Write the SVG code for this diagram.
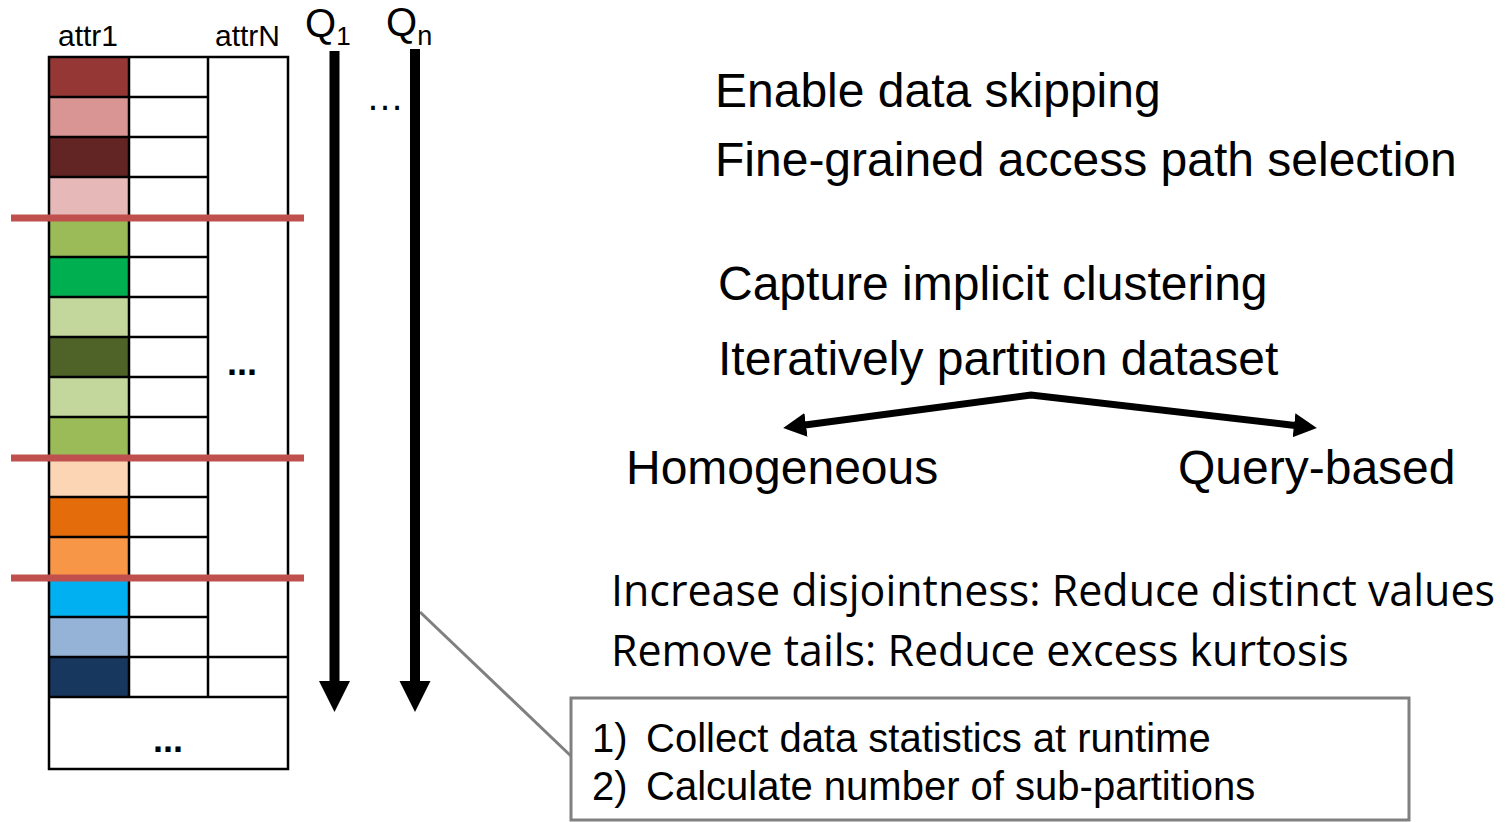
<svg xmlns="http://www.w3.org/2000/svg" width="1510" height="822" viewBox="0 0 1510 822">
  <style>
    .grid { fill: none; stroke: #000; stroke-width: 2.5; }
    .cell { stroke: none; }
    .cut { stroke: #C0504D; stroke-width: 7; }
    .lbl { font-family: "Liberation Sans", Arial, sans-serif; fill: #000; }
    .big { font-family: "Liberation Sans", Arial, sans-serif; font-size: 48px; fill: #000; }
    .cal { font-family: "Open Sans", "Noto Sans", sans-serif; font-size: 44px; fill: #000; }
    .box { font-family: "Liberation Sans", Arial, sans-serif; font-size: 40px; fill: #000; }
    .dots { font-family: "Liberation Sans", Arial, sans-serif; font-weight: bold; font-size: 36px; fill: #000; text-anchor: middle; }
    .shaft { stroke: #000; stroke-width: 10; fill: none; }
    .split { stroke: #000; stroke-width: 7; fill: none; stroke-linejoin: miter; }
  </style>
  <defs>
    <marker id="headBig" markerUnits="userSpaceOnUse" markerWidth="32" markerHeight="32" refX="1" refY="15.5" orient="auto">
      <path d="M0,0 L31,15.5 L0,31 Z" fill="#000"/>
    </marker>
    <marker id="headSplit" markerUnits="userSpaceOnUse" markerWidth="26" markerHeight="26" refX="1" refY="12" orient="auto-start-reverse">
      <path d="M0,0 L23,12 L0,24 Z" fill="#000"/>
    </marker>
  </defs>
  <rect width="1510" height="822" fill="#fff"/>

  <!-- column table with coloured attr1 values -->
  <g id="table">
    <g class="cell">
      <rect x="49" y="57" width="80" height="40" fill="#953735"/>
      <rect x="49" y="97" width="80" height="40" fill="#D99594"/>
      <rect x="49" y="137" width="80" height="40" fill="#632523"/>
      <rect x="49" y="177" width="80" height="40" fill="#E6B9B8"/>
      <rect x="49" y="217" width="80" height="40" fill="#9BBB59"/>
      <rect x="49" y="257" width="80" height="40" fill="#00B050"/>
      <rect x="49" y="297" width="80" height="40" fill="#C3D69B"/>
      <rect x="49" y="337" width="80" height="40" fill="#4F6228"/>
      <rect x="49" y="377" width="80" height="40" fill="#C3D69B"/>
      <rect x="49" y="417" width="80" height="40" fill="#9BBB59"/>
      <rect x="49" y="457" width="80" height="40" fill="#FCD5B5"/>
      <rect x="49" y="497" width="80" height="40" fill="#E46C0A"/>
      <rect x="49" y="537" width="80" height="40" fill="#F79646"/>
      <rect x="49" y="577" width="80" height="40" fill="#00B0F0"/>
      <rect x="49" y="617" width="80" height="40" fill="#95B3D7"/>
      <rect x="49" y="657" width="80" height="40" fill="#17375E"/>
    </g>
    <path class="grid" d="M49,57 H288 V769 H49 Z M129,57 V697 M208,57 V697
      M49,97 H208 M49,137 H208 M49,177 H208 M49,217 H208 M49,257 H208 M49,297 H208
      M49,337 H208 M49,377 H208 M49,417 H208 M49,457 H208 M49,497 H208 M49,537 H208
      M49,577 H208 M49,617 H208 M49,657 H288 M49,697 H288"/>
    <text class="dots" x="242" y="375">...</text>
    <text class="dots" x="168" y="752">...</text>
    <text class="lbl" x="58" y="46" font-size="30">attr1</text>
    <text class="lbl" x="215" y="46" font-size="30">attrN</text>
  </g>

  <!-- partition boundaries -->
  <g id="cuts">
    <line class="cut" x1="11" y1="218" x2="304" y2="218"/>
    <line class="cut" x1="11" y1="458" x2="304" y2="458"/>
    <line class="cut" x1="11" y1="578" x2="304" y2="578"/>
  </g>

  <g id="query-labels">
    <text class="lbl" x="305" y="37" font-size="40">Q<tspan font-size="26" dy="8">1</tspan></text>
    <text class="lbl" x="386" y="36" font-size="40">Q<tspan font-size="27" dy="9">n</tspan></text>
    <text class="lbl" x="366" y="110" font-size="38">…</text>
  </g>

  <g id="connectors">
    <line x1="420" y1="612" x2="572" y2="757" stroke="#808080" stroke-width="3"/>
    <line class="shaft" x1="334.5" y1="51" x2="334.5" y2="682" marker-end="url(#headBig)"/>
    <line class="shaft" x1="415" y1="49" x2="415" y2="682" marker-end="url(#headBig)"/>
    <path class="split" d="M805,425 L1031,395 L1295,425.4" marker-start="url(#headSplit)" marker-end="url(#headSplit)"/>
  </g>

  <g id="goals">
    <text class="big" x="715" y="107">Enable data skipping</text>
    <text class="big" x="715" y="176">Fine-grained access path selection</text>
  </g>

  <g id="method">
    <text class="big" x="718" y="300">Capture implicit clustering</text>
    <text class="big" x="718" y="375">Iteratively partition dataset</text>
  </g>

  <g id="homogeneous">
    <text class="big" x="626" y="484">Homogeneous</text>
  </g>

  <g id="query-based">
    <text class="big" x="1178" y="484">Query-based</text>
  </g>

  <!-- narrow sans lines: horizontally condensed -->
  <g id="effects">
    <text class="cal" transform="translate(611,606) scale(0.85,1)" textLength="1040" lengthAdjust="spacingAndGlyphs">Increase disjointness: Reduce distinct values</text>
    <text class="cal" transform="translate(611,666) scale(0.85,1)" textLength="868" lengthAdjust="spacingAndGlyphs">Remove tails: Reduce excess kurtosis</text>
  </g>

  <g id="steps">
    <rect x="571" y="698" width="838" height="122" fill="#fff" stroke="#808080" stroke-width="3"/>
    <text class="box" x="592" y="752">1)</text>
    <text class="box" x="646" y="752">Collect data statistics at runtime</text>
    <text class="box" x="592" y="800">2)</text>
    <text class="box" x="646" y="800">Calculate number of sub-partitions</text>
  </g>
</svg>
